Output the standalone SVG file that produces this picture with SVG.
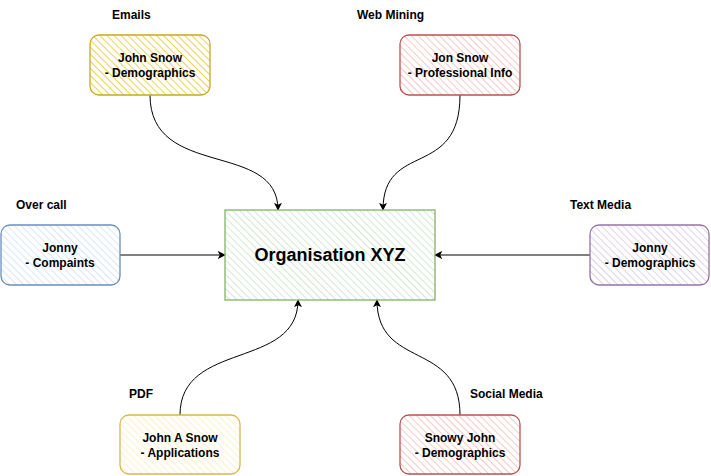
<svg xmlns="http://www.w3.org/2000/svg" width="711" height="476" viewBox="0 0 711 476">
<style>
text{font-family:"Liberation Sans",Arial,sans-serif;font-weight:bold;font-size:12px;fill:#000;text-anchor:middle}
.lbl{text-anchor:start}
.title{font-size:18px}
.box{stroke-width:1.3}
.edge{fill:none;stroke:#000;stroke-width:1}
</style>
<defs>
<pattern id="hY" width="5" height="5" patternUnits="userSpaceOnUse" patternTransform="rotate(-45)"><line x1="0" y1="0" x2="0" y2="5" stroke="#ecd453" stroke-width="2"/></pattern>
<pattern id="hLY" width="5" height="5" patternUnits="userSpaceOnUse" patternTransform="rotate(-45)"><line x1="0" y1="0" x2="0" y2="5" stroke="#fff0c4" stroke-width="2"/></pattern>
<pattern id="hR" width="5" height="5" patternUnits="userSpaceOnUse" patternTransform="rotate(-45)"><line x1="0" y1="0" x2="0" y2="5" stroke="#f7c9c7" stroke-width="2"/></pattern>
<pattern id="hB" width="5" height="5" patternUnits="userSpaceOnUse" patternTransform="rotate(-45)"><line x1="0" y1="0" x2="0" y2="5" stroke="#d9e6fa" stroke-width="2"/></pattern>
<pattern id="hP" width="5" height="5" patternUnits="userSpaceOnUse" patternTransform="rotate(-45)"><line x1="0" y1="0" x2="0" y2="5" stroke="#e0d3e6" stroke-width="2"/></pattern>
<pattern id="hG" width="5" height="5" patternUnits="userSpaceOnUse" patternTransform="rotate(-45)"><line x1="0" y1="0" x2="0" y2="5" stroke="#d5e8d3" stroke-width="2"/></pattern>
<marker id="arr" viewBox="0 0 10 10" refX="9" refY="5" markerWidth="8" markerHeight="8" orient="auto" markerUnits="userSpaceOnUse"><path d="M0,0 L10,5 L0,10 L2.5,5 Z" fill="#000"/></marker>
</defs>

<g id="connectors">
<path class="edge" d="M150,95 C150,180 278,140 278,210" marker-end="url(#arr)"/>
<path class="edge" d="M460,95 C460,180 383,140 383,210" marker-end="url(#arr)"/>
<path class="edge" d="M120,255 L225,255" marker-end="url(#arr)"/>
<path class="edge" d="M590,255 L435,255" marker-end="url(#arr)"/>
<path class="edge" d="M180,415 C180,340 298,370 298,300" marker-end="url(#arr)"/>
<path class="edge" d="M460,415 C460,340 377,370 377,300" marker-end="url(#arr)"/>
</g>

<g id="center">
<rect class="box" x="225" y="210" width="210" height="90" fill="url(#hG)" stroke="#82b366"/>
<text class="title" x="330" y="261">Organisation XYZ</text>
</g>

<g id="emails">
<text class="lbl" x="112" y="19">Emails</text>
<rect class="box" x="90" y="35" width="120" height="60" rx="9" fill="url(#hY)" stroke="#c9a825"/>
<text x="150" y="62">John Snow</text>
<text x="150" y="77">- Demographics</text>
</g>

<g id="webmining">
<text class="lbl" x="357" y="19">Web Mining</text>
<rect class="box" x="400" y="35" width="120" height="60" rx="9" fill="url(#hR)" stroke="#b85450"/>
<text x="460" y="62">Jon Snow</text>
<text x="460" y="77">- Professional Info</text>
</g>

<g id="overcall">
<text class="lbl" x="16" y="209">Over call</text>
<rect class="box" x="1" y="225" width="119" height="60" rx="9" fill="url(#hB)" stroke="#6c8ebf"/>
<text x="60" y="252">Jonny</text>
<text x="60" y="267">- Compaints</text>
</g>

<g id="textmedia">
<text class="lbl" x="570" y="209">Text Media</text>
<rect class="box" x="590" y="225" width="119" height="60" rx="9" fill="url(#hP)" stroke="#9673a6"/>
<text x="650" y="252">Jonny</text>
<text x="650" y="267">- Demographics</text>
</g>

<g id="pdf">
<text class="lbl" x="129" y="398">PDF</text>
<rect class="box" x="120" y="415" width="120" height="59" rx="9" fill="url(#hLY)" stroke="#d6b656"/>
<text x="180" y="442">John A Snow</text>
<text x="180" y="457">- Applications</text>
</g>

<g id="socialmedia">
<text class="lbl" x="470" y="398">Social Media</text>
<rect class="box" x="400" y="415" width="120" height="59" rx="9" fill="url(#hR)" stroke="#b85450"/>
<text x="460" y="442">Snowy John</text>
<text x="460" y="457">- Demographics</text>
</g>
</svg>
